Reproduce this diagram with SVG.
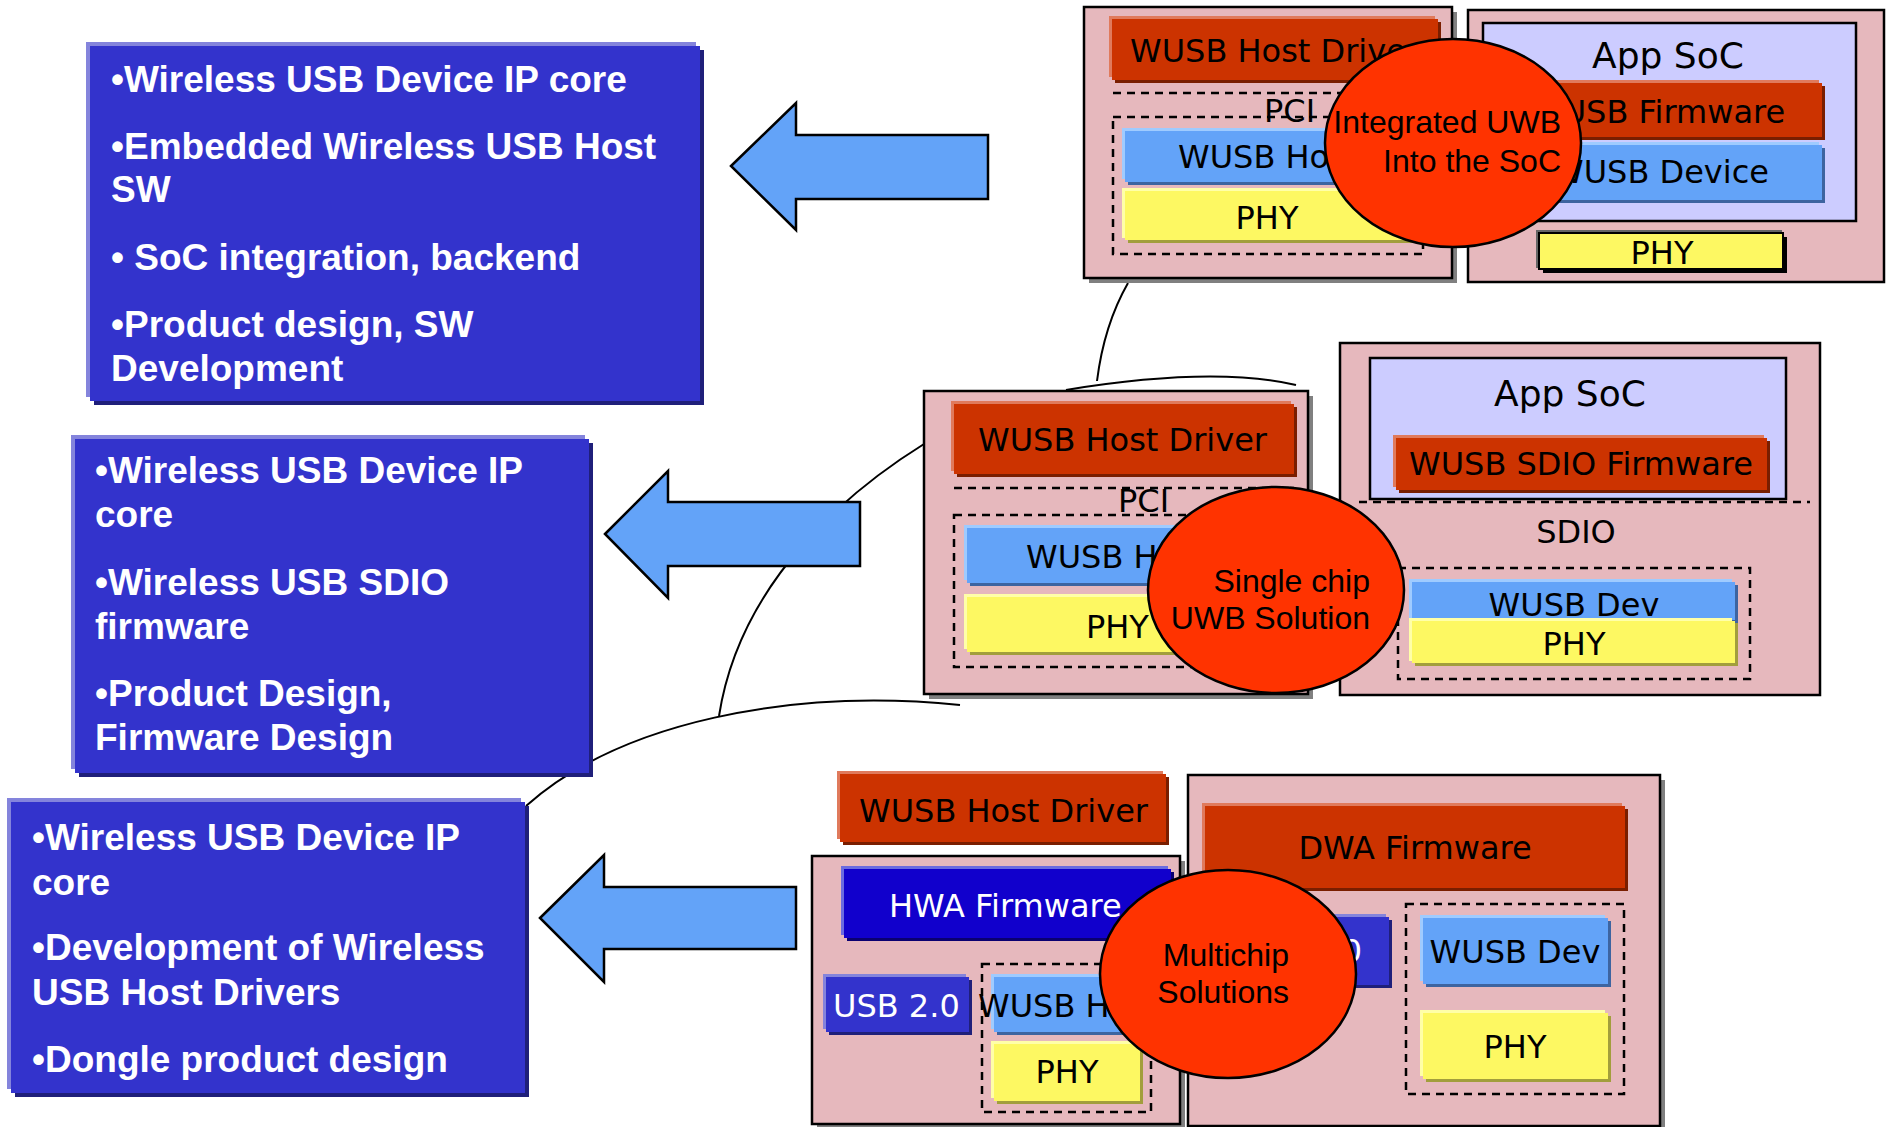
<svg xmlns="http://www.w3.org/2000/svg" width="1889" height="1127" viewBox="0 0 1889 1127">
<style>
.bg{fill:#ffffff}
.pink{fill:#e6b8bd;stroke:#000;stroke-width:2.5}
.psh{fill:#808080}
.red{fill:#cc3300}.redhi{fill:#e07a5c}.redsh{fill:#7a1e00}
.lb{fill:#63a3f8}.lbhi{fill:#9fcbff}.lbsh{fill:#3d64a0}
.yl{fill:#fdf862}.ylhi{fill:#ffffa8}.ylsh{fill:#a29e3c}
.db{fill:#1100cc}.dbhi{fill:#6b6be0}.dbsh{fill:#0a0070}
.mb{fill:#3333cc}.mbhi{fill:#8484dc}.mbsh{fill:#1f1f7a}
.lav{fill:#ccccff;stroke:#000;stroke-width:2.5}
.dash{fill:none;stroke:#000;stroke-width:2.5;stroke-dasharray:8 6}
.ell{fill:#ff3300;stroke:#000;stroke-width:2.5}
.t{font-family:"DejaVu Sans",Verdana,sans-serif;font-size:32px;fill:#000}
.tw{font-family:"DejaVu Sans",Verdana,sans-serif;font-size:32px;fill:#fff}
.big{font-size:36px}
.c{text-anchor:middle}
.te{font-family:"Liberation Sans",Arial,sans-serif;font-size:32px;fill:#000;text-anchor:end}
.bt{font-family:"Liberation Sans",Arial,sans-serif;font-weight:bold;font-size:37px;fill:#fff}
.arrow{fill:#63a3f8;stroke:#000;stroke-width:2.5}
.curve{fill:none;stroke:#000;stroke-width:2}
</style>
<rect class="bg" x="0" y="0" width="1889" height="1127"/>

<g id="connectors">
  <path class="curve" d="M526,806 C620,722 790,688 960,705"/>
  <path class="curve" d="M924,444 C850,490 740,580 719,716"/>
  <path class="curve" d="M1128,283 Q1104,325 1097,381"/>
  <path class="curve" d="M1066,390 Q1213,366 1296,385"/>
  <polygon class="arrow" points="731,166 796,103 796,135 988,135 988,199 796,199 796,230"/>
  <polygon class="arrow" points="605,534 668,471 668,502 860,502 860,566 668,566 668,598"/>
  <polygon class="arrow" points="540,918 604,855 604,887 796,887 796,949 604,949 604,982"/>
</g>

<g id="box-integrated">
  <rect class="mbhi" x="86" y="42" width="610" height="355"/>
  <rect class="mbsh" x="94" y="50" width="610" height="355"/>
  <rect class="mb" x="90" y="46" width="610" height="355"/>
  <text class="bt" x="111" y="92">•Wireless USB Device IP core</text>
  <text class="bt" x="111" y="159">•Embedded Wireless USB Host</text>
  <text class="bt" x="111" y="202">SW</text>
  <text class="bt" x="111" y="270">• SoC integration, backend</text>
  <text class="bt" x="111" y="337">•Product design, SW</text>
  <text class="bt" x="111" y="381">Development</text>
</g>

<g id="box-single">
  <rect class="mbhi" x="71" y="435" width="514" height="334"/>
  <rect class="mbsh" x="79" y="443" width="514" height="334"/>
  <rect class="mb" x="75" y="439" width="514" height="334"/>
  <text class="bt" x="95" y="483">•Wireless USB Device IP</text>
  <text class="bt" x="95" y="527">core</text>
  <text class="bt" x="95" y="595">•Wireless USB SDIO</text>
  <text class="bt" x="95" y="639">firmware</text>
  <text class="bt" x="95" y="706">•Product Design,</text>
  <text class="bt" x="95" y="750">Firmware Design</text>
</g>

<g id="box-multichip">
  <rect class="mbhi" x="7" y="798" width="514" height="291"/>
  <rect class="mbsh" x="15" y="806" width="514" height="291"/>
  <rect class="mb" x="11" y="802" width="514" height="291"/>
  <text class="bt" x="32" y="850">•Wireless USB Device IP</text>
  <text class="bt" x="32" y="895">core</text>
  <text class="bt" x="32" y="960">•Development of Wireless</text>
  <text class="bt" x="32" y="1005">USB Host Drivers</text>
  <text class="bt" x="32" y="1072">•Dongle product design</text>
</g>

<g id="top-host-chip">
  <rect class="psh" x="1089" y="12" width="368" height="271"/>
  <rect class="pink" x="1084" y="7" width="368" height="271"/>
  <rect class="redhi" x="1109" y="16" width="326" height="61"/>
  <rect class="redsh" x="1115" y="22" width="326" height="61"/>
  <rect class="red" x="1112" y="19" width="326" height="61"/>
  <text class="t" x="1130" y="62">WUSB Host Driver</text>
  <line class="dash" x1="1113" y1="93" x2="1440" y2="93"/>
  <text class="t" x="1264" y="122">PCI</text>
  <rect class="dash" x="1113" y="117" width="310" height="137"/>
  <rect class="lbhi" x="1122" y="128" width="287" height="51"/>
  <rect class="lbsh" x="1128" y="134" width="287" height="51"/>
  <rect class="lb" x="1125" y="131" width="287" height="51"/>
  <text class="t" x="1178" y="168">WUSB Host</text>
  <rect class="ylhi" x="1122" y="188" width="286" height="50"/>
  <rect class="ylsh" x="1128" y="193" width="286" height="50"/>
  <rect class="yl" x="1125" y="191" width="286" height="49"/>
  <text class="t c" x="1267" y="229">PHY</text>
</g>

<g id="top-app-soc">
  <rect class="pink" x="1468" y="10" width="416" height="272"/>
  <rect class="lav" x="1483" y="23" width="373" height="198"/>
  <text class="t big c" x="1668" y="68">App SoC</text>
  <rect class="redhi" x="1512" y="80" width="307" height="54"/>
  <rect class="redsh" x="1518" y="86" width="307" height="54"/>
  <rect class="red" x="1515" y="83" width="307" height="54"/>
  <text class="t" x="1531" y="123">WUSB Firmware</text>
  <rect class="lbhi" x="1512" y="142" width="307" height="55"/>
  <rect class="lbsh" x="1518" y="148" width="307" height="55"/>
  <rect class="lb" x="1515" y="145" width="307" height="55"/>
  <text class="t" x="1552" y="183">WUSB Device</text>
  <rect fill="#666666" x="1536" y="230" width="246" height="38"/>
  <rect fill="#000000" x="1543" y="237" width="244" height="36"/>
  <rect class="yl" stroke="#000" stroke-width="2" x="1539" y="233" width="244" height="36"/>
  <text class="t c" x="1662" y="264">PHY</text>
</g>

<g id="label-integrated">
  <ellipse class="ell" cx="1453" cy="143" rx="128" ry="104"/>
  <text class="te" x="1561" y="133">Integrated UWB</text>
  <text class="te" x="1561" y="172">Into the SoC</text>
</g>

<g id="mid-host-chip">
  <rect class="psh" x="929" y="396" width="384" height="303"/>
  <rect class="pink" x="924" y="391" width="384" height="303"/>
  <rect class="redhi" x="951" y="401" width="340" height="70"/>
  <rect class="redsh" x="957" y="407" width="340" height="70"/>
  <rect class="red" x="954" y="404" width="340" height="70"/>
  <text class="t" x="978" y="451">WUSB Host Driver</text>
  <line class="dash" x1="954" y1="488" x2="1294" y2="488"/>
  <text class="t" x="1118" y="512">PCI</text>
  <rect class="dash" x="954" y="515" width="326" height="152"/>
  <rect class="lbhi" x="964" y="525" width="300" height="55"/>
  <rect class="lbsh" x="970" y="531" width="300" height="55"/>
  <rect class="lb" x="967" y="528" width="300" height="55"/>
  <text class="t" x="1026" y="568">WUSB Host</text>
  <rect class="ylhi" x="964" y="594" width="300" height="55"/>
  <rect class="ylsh" x="970" y="600" width="300" height="55"/>
  <rect class="yl" x="967" y="597" width="300" height="55"/>
  <text class="t" x="1086" y="638">PHY</text>
</g>

<g id="mid-app-soc">
  <rect class="pink" x="1340" y="343" width="480" height="352"/>
  <rect class="lav" x="1370" y="358" width="416" height="141"/>
  <text class="t big c" x="1570" y="406">App SoC</text>
  <rect class="redhi" x="1393" y="435" width="371" height="52"/>
  <rect class="redsh" x="1399" y="441" width="371" height="52"/>
  <rect class="red" x="1396" y="438" width="371" height="52"/>
  <text class="t c" x="1581" y="475">WUSB SDIO Firmware</text>
  <line class="dash" x1="1359" y1="502" x2="1810" y2="502"/>
  <text class="t c" x="1576" y="543">SDIO</text>
  <rect class="dash" x="1398" y="568" width="352" height="111"/>
  <rect class="lbhi" x="1409" y="579" width="323" height="41"/>
  <rect class="lbsh" x="1415" y="585" width="323" height="38"/>
  <rect class="lb" x="1412" y="582" width="323" height="38"/>
  <rect class="ylhi" x="1409" y="618" width="323" height="43"/>
  <rect class="ylsh" x="1415" y="623" width="323" height="43"/>
  <rect class="yl" x="1412" y="621" width="323" height="42"/>
  <text class="t c" x="1574" y="616">WUSB Dev</text>
  <text class="t c" x="1574" y="655">PHY</text>
</g>

<g id="label-single">
  <ellipse class="ell" cx="1276" cy="590" rx="128" ry="103"/>
  <text class="te" x="1370" y="592">Single chip</text>
  <text class="te" x="1370" y="629">UWB Solution</text>
</g>

<g id="bottom-host-driver">
  <rect class="redhi" x="837" y="771" width="326" height="68"/>
  <rect class="redsh" x="843" y="777" width="326" height="68"/>
  <rect class="red" x="840" y="774" width="326" height="68"/>
  <text class="t" x="859" y="822">WUSB Host Driver</text>
</g>

<g id="bottom-hwa-chip">
  <rect class="psh" x="817" y="861" width="368" height="268"/>
  <rect class="pink" x="812" y="856" width="368" height="268"/>
  <rect class="dbhi" x="841" y="866" width="327" height="69"/>
  <rect class="dbsh" x="847" y="872" width="327" height="69"/>
  <rect class="db" x="844" y="869" width="327" height="69"/>
  <text class="tw" x="889" y="917">HWA Firmware</text>
  <rect class="mbhi" x="823" y="974" width="143" height="55"/>
  <rect class="mbsh" x="829" y="980" width="143" height="55"/>
  <rect class="mb" x="826" y="977" width="143" height="55"/>
  <text class="tw" x="833" y="1017">USB 2.0</text>
  <rect class="dash" x="982" y="964" width="169" height="148"/>
  <rect class="lbhi" x="991" y="974" width="146" height="55"/>
  <rect class="lbsh" x="997" y="980" width="146" height="55"/>
  <rect class="lb" x="994" y="977" width="146" height="55"/>
  <text class="t" x="978" y="1017">WUSB Host</text>
  <rect class="ylhi" x="991" y="1041" width="146" height="57"/>
  <rect class="ylsh" x="997" y="1047" width="146" height="57"/>
  <rect class="yl" x="994" y="1044" width="146" height="57"/>
  <text class="t c" x="1067" y="1083">PHY</text>
</g>

<g id="bottom-dwa-chip">
  <rect class="psh" x="1193" y="780" width="472" height="351"/>
  <rect class="pink" x="1188" y="775" width="472" height="351"/>
  <rect class="redhi" x="1202" y="803" width="420" height="82"/>
  <rect class="redsh" x="1208" y="809" width="420" height="82"/>
  <rect class="red" x="1205" y="806" width="420" height="82"/>
  <text class="t c" x="1415" y="859">DWA Firmware</text>
  <rect class="mbhi" x="1204" y="914" width="182" height="68"/>
  <rect class="mbsh" x="1210" y="920" width="182" height="68"/>
  <rect class="mb" x="1207" y="917" width="182" height="68"/>
  <text class="tw" x="1362" y="962" text-anchor="end">2.0</text>
  <rect class="dash" x="1406" y="904" width="218" height="190"/>
  <rect class="lbhi" x="1420" y="915" width="185" height="66"/>
  <rect class="lbsh" x="1426" y="921" width="185" height="66"/>
  <rect class="lb" x="1423" y="918" width="185" height="66"/>
  <text class="t c" x="1515" y="963">WUSB Dev</text>
  <rect class="ylhi" x="1420" y="1010" width="185" height="66"/>
  <rect class="ylsh" x="1426" y="1016" width="185" height="66"/>
  <rect class="yl" x="1423" y="1013" width="185" height="66"/>
  <text class="t c" x="1515" y="1058">PHY</text>
</g>

<g id="label-multichip">
  <ellipse class="ell" cx="1228" cy="974" rx="128" ry="104"/>
  <text class="te" x="1289" y="966">Multichip</text>
  <text class="te" x="1289" y="1003">Solutions</text>
</g>
</svg>
